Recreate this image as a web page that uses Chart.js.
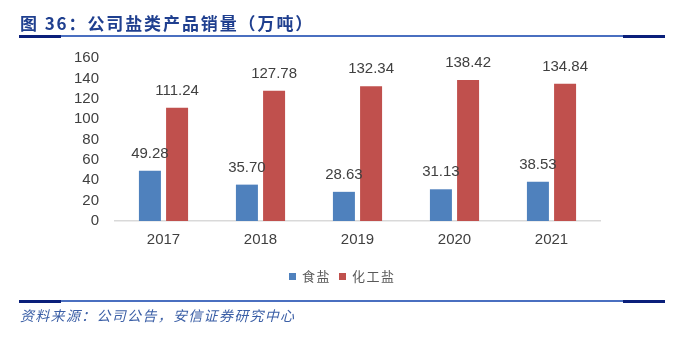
<!DOCTYPE html>
<html>
<head>
<meta charset="utf-8">
<script src="https://cdn.jsdelivr.net/npm/chart.js@4/dist/chart.umd.min.js"></script>
<style>
  html, body { margin: 0; padding: 0; background: #fff; }
  #page { position: relative; width: 700px; height: 337px; overflow: hidden; }
  #title {
    position: absolute; left: 20px; top: 12px;
    font-family: "Noto Sans CJK SC", sans-serif; font-weight: bold;
    font-size: 17px; letter-spacing: 1.9px; color: #1f3f8f; line-height: 22px;
    white-space: nowrap;
  }
  .rule { position: absolute; left: 19px; width: 646px; height: 2px; background: #4a6fc0; }
  .rule .dk { position: absolute; top: 0; height: 3px; width: 42px; background: #0a1f7a; }
  #source {
    position: absolute; left: 20px; top: 305px;
    font-family: "Noto Sans CJK SC", sans-serif; font-style: italic;
    font-size: 14px; letter-spacing: 1.3px; color: #3b5fa6; line-height: 20px;
    white-space: nowrap;
  }
  #legend {
    position: absolute; left: 289px; top: 266px;
    font-family: "Noto Sans CJK SC", sans-serif; font-size: 13px;
    letter-spacing: 1.5px; color: #595959; line-height: 20px; white-space: nowrap;
  }
  #legend span.box { display: inline-block; width: 7px; height: 7px; margin-right: 6px; vertical-align: 1px; }
  #chartBox { position: absolute; left: 0; top: 0; width: 700px; height: 337px; }
</style>
</head>
<body>
<div id="page">
  <div id="chartBox"><canvas id="myChart" width="700" height="337"></canvas></div>
  <div id="title">图 36：公司盐类产品销量（万吨）</div>
  <div class="rule" style="top:35px;"><div class="dk" style="left:0;"></div><div class="dk" style="left:604px;"></div></div>
  <div id="legend"></div>
  <div class="rule" style="top:300px;"><div class="dk" style="left:0;"></div><div class="dk" style="left:604px;"></div></div>
  <div id="source">资料来源：公司公告，安信证券研究中心</div>
</div>
<script>
const years = ['2017', '2018', '2019', '2020', '2021'];
const seriesNames = ['食盐', '化工盐'];
const tableSalt = [49.28, 35.70, 28.63, 31.13, 38.53];
const chemSalt = [111.24, 127.78, 132.34, 138.42, 134.84];
const seriesColors = ['#4f81bd', '#c0504d'];

const legendDiv = document.getElementById('legend');
legendDiv.innerHTML = seriesNames.map(function(name, i) {
    return '<span class="box" style="background:' + seriesColors[i] + '"></span>' + name;
}).join('<span style="display:inline-block;width:8px"></span>');

// value labels above each bar
const barLabels = {
    id: 'barLabels',
    afterDatasetsDraw(chart) {
        const ctx = chart.ctx;
        ctx.save();
        ctx.font = '15px "Liberation Sans", Arial, sans-serif';
        ctx.fillStyle = '#404040';
        ctx.textAlign = 'center';
        ctx.textBaseline = 'middle';
        chart.data.datasets.forEach(function(ds, di) {
            chart.getDatasetMeta(di).data.forEach(function(bar, i) {
                ctx.fillText(ds.data[i].toFixed(2), bar.x, bar.y - 17);
            });
        });
        ctx.restore();
    }
};

const ctx = document.getElementById('myChart').getContext('2d');
const myChart = new Chart(ctx, {
    type: 'bar',
    data: {
        labels: years,
        datasets: [
            { label: seriesNames[0], data: tableSalt, backgroundColor: seriesColors[0] },
            { label: seriesNames[1], data: chemSalt, backgroundColor: seriesColors[1] }
        ]
    },
    options: {
        responsive: false,
        animation: false,
        layout: { padding: { left: 0, right: 100, top: 58, bottom: 85 } },
        datasets: { bar: { categoryPercentage: 0.56, barPercentage: 0.81 } },
        plugins: { legend: { display: false }, tooltip: { enabled: false } },
        scales: {
            x: {
                grid: { display: false, drawTicks: false },
                border: { display: true, color: '#d9d9d9', width: 1.5 },
                ticks: { color: '#404040', padding: 10, font: { size: 15, family: '"Liberation Sans", Arial, sans-serif' } },
                afterFit: function(scale) { scale.height = 31; }
            },
            y: {
                min: 0, max: 160,
                ticks: { stepSize: 20, autoSkip: false, color: '#404040', padding: 16, font: { size: 15, family: '"Liberation Sans", Arial, sans-serif' } },
                grid: { display: false, drawTicks: false },
                border: { display: false },
                afterFit: function(scale) { scale.width = 115; }
            }
        }
    },
    plugins: [barLabels]
});
</script>
</body>
</html>
